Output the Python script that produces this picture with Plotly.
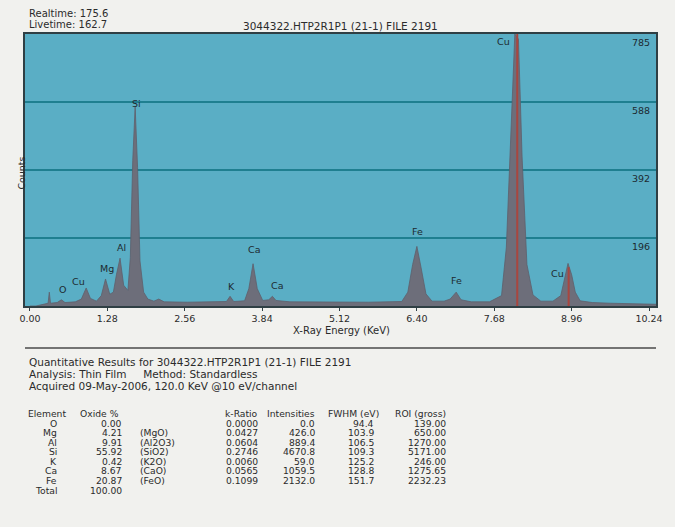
import plotly.graph_objects as go

# ---- spectrum (keV, counts) ----
energy = [0.00, 0.10, 0.20, 0.30, 0.32, 0.34, 0.45, 0.52, 0.58, 0.75, 0.85, 0.93, 1.00,
          1.10, 1.18, 1.25, 1.32, 1.38, 1.43, 1.49, 1.55, 1.62, 1.66, 1.70, 1.74, 1.78,
          1.82, 1.88, 1.95, 2.05, 2.13, 2.22, 2.60, 3.00, 3.25, 3.31, 3.37, 3.55, 3.62,
          3.69, 3.76, 3.85, 3.95, 4.01, 4.07, 4.30, 5.00, 5.60, 6.15, 6.25, 6.33, 6.40,
          6.47, 6.55, 6.65, 6.85, 6.95, 7.05, 7.13, 7.30, 7.60, 7.80, 7.88, 7.96, 8.02,
          8.08, 8.14, 8.22, 8.32, 8.45, 8.65, 8.78, 8.85, 8.90, 8.96, 9.02, 9.10, 9.30,
          9.60, 10.00, 10.36]
counts = [0, 0, 4, 8, 40, 8, 10, 18, 10, 12, 20, 52, 22,
          14, 30, 78, 34, 40, 90, 138, 60, 45, 140, 420, 575, 400,
          130, 40, 20, 14, 20, 12, 11, 12, 13, 28, 13, 15, 50,
          122, 50, 16, 18, 28, 16, 12, 11, 11, 13, 40, 120, 172,
          110, 35, 14, 14, 20, 40, 18, 12, 12, 30, 170, 520, 785,
          770, 430, 120, 32, 14, 14, 30, 80, 123, 90, 40, 15, 10,
          8, 6, 5]

# ROI markers (red)
roi_e = [8.06, 8.91]
roi_top = [785, 112]

# peak labels
peak_names = ['O', 'Cu', 'Mg', 'Al', 'Si', 'K', 'Ca', 'Ca', 'Fe', 'Fe', 'Cu', 'Cu']
peak_e = [0.54, 0.80, 1.27, 1.51, 1.76, 3.33, 3.70, 4.08, 6.41, 7.05, 7.84, 8.72]
peak_y = [48, 70, 108, 168, 585, 55, 162, 58, 215, 75, 762, 95]

x_ticks = [0.00, 1.28, 2.56, 3.84, 5.12, 6.40, 7.68, 8.96, 10.24]
y_grid = [196.25, 392.5, 588.75, 785]
y_grid_labels = ['196', '392', '588', '785']

# ---- quantitative table ----
elements = ['O', 'Mg', 'Al', 'Si', 'K', 'Ca', 'Fe', 'Total']
oxide_pct = ['0.00', '4.21', '9.91', '55.92', '0.42', '8.67', '20.87', '100.00']
oxide_name = ['', '(MgO)', '(Al2O3)', '(SiO2)', '(K2O)', '(CaO)', '(FeO)', '']
k_ratio = ['0.0000', '0.0427', '0.0604', '0.2746', '0.0060', '0.0565', '0.1099', '']
intensities = ['0.0', '426.0', '889.4', '4670.8', '59.0', '1059.5', '2132.0', '']
fwhm = ['94.4', '103.9', '106.5', '109.3', '125.2', '128.8', '151.7', '']
roi_gross = ['139.00', '650.00', '1270.00', '5171.00', '246.00', '1275.65', '2232.23', '']

W, H = 675, 527
L, R, T, B = 25, 662, 34, 306
TXT = '#2b2b2b'
FONT = 'DejaVu Sans'


def px(x):
    return (x - L) / (R - L)


def py(y):
    return (B - y) / (B - T)


roi_x, roi_y = [], []
for e, t in zip(roi_e, roi_top):
    roi_x += [e, e, None]
    roi_y += [0, t, None]

fig = go.Figure()
fig.add_trace(go.Scatter(x=energy, y=counts, mode='lines', fill='tozeroy',
                         line=dict(color='#5e5f6c', width=0.8),
                         fillcolor='#6d6e7a', hoverinfo='skip'))
fig.add_trace(go.Scatter(x=roi_x, y=roi_y, mode='lines',
                         line=dict(color='#a9463f', width=2), hoverinfo='skip'))

ann = []
for n, e, c in zip(peak_names, peak_e, peak_y):
    ann.append(dict(x=e, y=c, text=n, showarrow=False, xanchor='center', yanchor='middle',
                    font=dict(size=9.5, color='#1d2a30', family=FONT)))
for v, t in zip(y_grid, y_grid_labels):
    ann.append(dict(x=px(658), xref='paper', y=v, text=t, showarrow=False,
                    xanchor='right', yanchor='top', yshift=-1,
                    font=dict(size=9.5, color='#1d2a30', family=FONT)))


def txt(x, y, s, anchor='left', size=10.5):
    ann.append(dict(x=px(x), y=py(y), xref='paper', yref='paper', text=s, showarrow=False,
                    xanchor=anchor, yanchor='middle', font=dict(size=size, color=TXT, family=FONT)))


txt(27, 13, 'Realtime: 175.6', size=10)
txt(27, 25, 'Livetime: 162.7', size=10)
txt(343, 26, '3044322.HTP2R1P1 (21-1) FILE 2191', anchor='center', size=10.5)
txt(345, 330, 'X-Ray Energy (KeV)', anchor='center', size=10)
ann.append(dict(x=px(13), y=py(173), xref='paper', yref='paper', text='Counts', showarrow=False,
                textangle=-90, font=dict(size=9.5, color=TXT, family=FONT)))

txt(27, 362, 'Quantitative Results for 3044322.HTP2R1P1 (21-1) FILE 2191')
txt(27, 374, 'Analysis: Thin Film&nbsp;&nbsp;&nbsp;&nbsp;&nbsp;Method: Standardless')
txt(27, 386, 'Acquired 09-May-2006, 120.0 KeV @10 eV/channel')

TS = 9.2
hy = 413
txt(26, hy, 'Element', size=TS)
txt(79, hy, 'Oxide %', size=TS)
txt(262, hy, 'k-Ratio', anchor='right', size=TS)
txt(320, hy, 'Intensities', anchor='right', size=TS)
txt(384, hy, 'FWHM (eV)', anchor='right', size=TS)
txt(452, hy, 'ROI (gross)', anchor='right', size=TS)
for i in range(len(elements)):
    y = 423 + i * 9.6
    txt(59, y, elements[i], anchor='right', size=TS)
    txt(125, y, oxide_pct[i], anchor='right', size=TS)
    txt(139, y, oxide_name[i], size=TS)
    txt(262, y, k_ratio[i], anchor='right', size=TS)
    txt(320, y, intensities[i], anchor='right', size=TS)
    txt(379, y, fwhm[i], anchor='right', size=TS)
    txt(452, y, roi_gross[i], anchor='right', size=TS)

fig.update_layout(
    width=W, height=H,
    margin=dict(l=L, r=W - R, t=T, b=H - B),
    paper_bgcolor='#f1f1ee', plot_bgcolor='#5aaec5',
    showlegend=False,
    annotations=ann,
    shapes=[dict(type='line', xref='paper', yref='paper', x0=0, x1=1, y0=py(348), y1=py(348),
                 line=dict(color='#4a4a4a', width=1.5))],
    xaxis=dict(range=[-0.082, 10.355], tickvals=x_ticks,
               ticktext=['%.2f' % v for v in x_ticks], ticks='outside', ticklen=3,
               tickcolor='#2f3f44', showgrid=False, zeroline=False,
               showline=True, linecolor='#2f3f44', linewidth=1.5, mirror=True,
               tickfont=dict(size=9.5, color=TXT, family=FONT)),
    yaxis=dict(range=[0, 785], tickvals=y_grid, showticklabels=False,
               showgrid=True, gridcolor='#1f7f90', gridwidth=2, zeroline=False,
               showline=True, linecolor='#2f3f44', linewidth=1.5, mirror=True),
)

fig.write_html("out.html", config={'displayModeBar': False},
               post_script="document.body.style.margin='0';")
